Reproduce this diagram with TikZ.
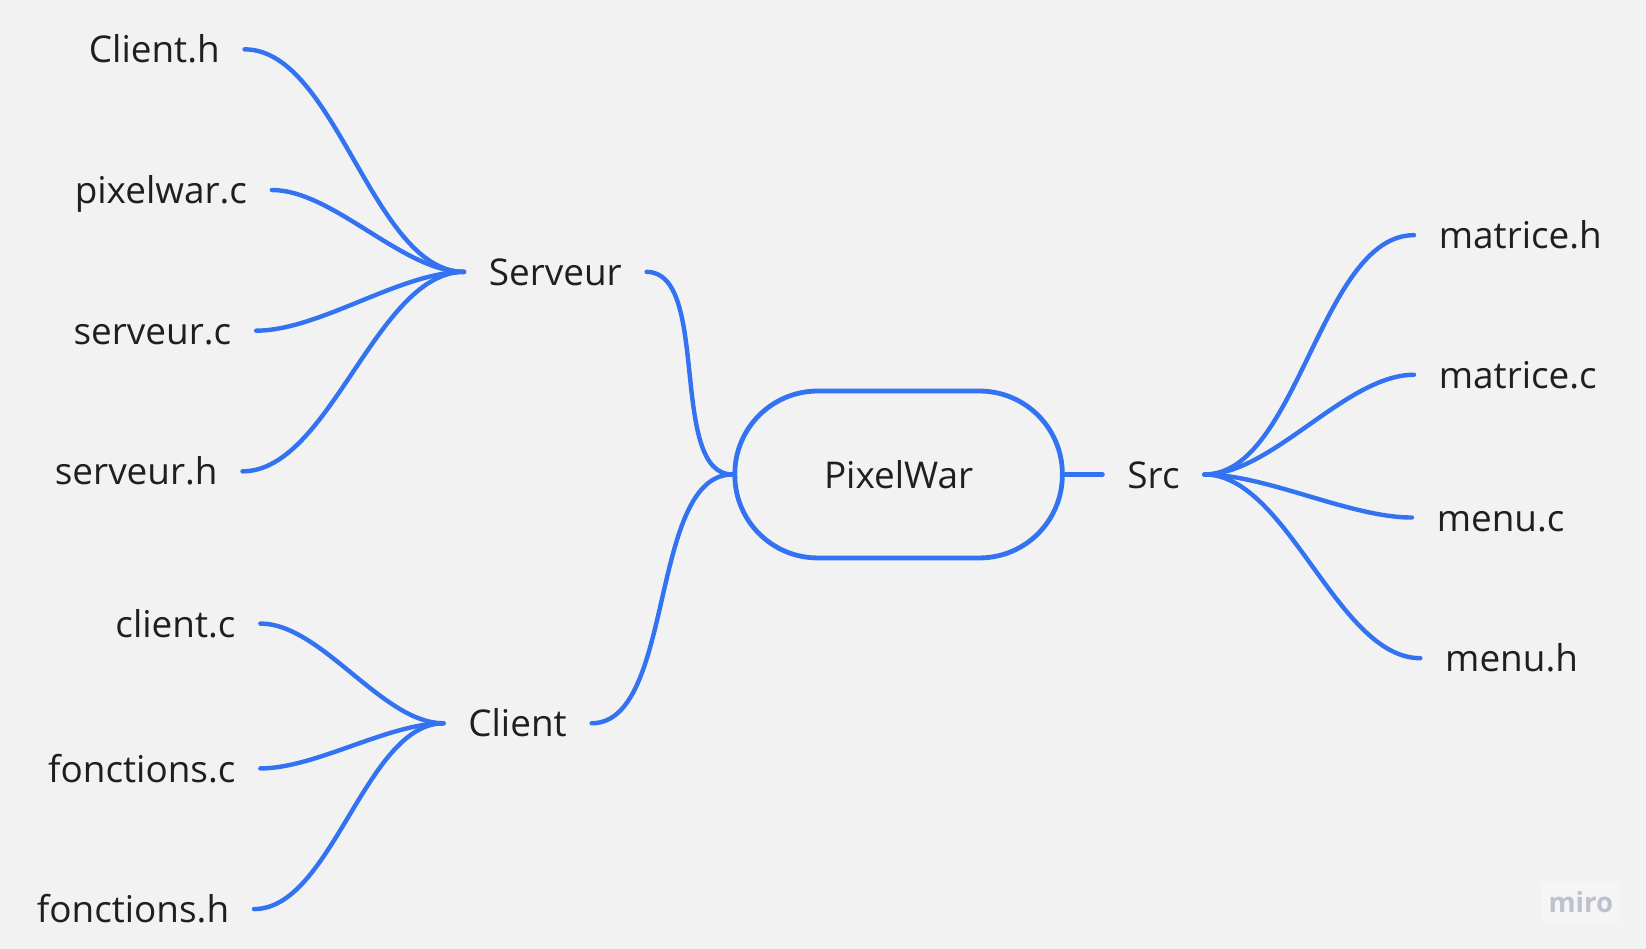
\documentclass[tikz,border=0pt]{standalone}
\usepackage{fontspec}
\setmainfont{Open Sans}
\usetikzlibrary{positioning}

\definecolor{mapblue}{RGB}{51,115,242}
\definecolor{paper}{RGB}{242,242,242}
\definecolor{logogray}{RGB}{190,193,205}

\tikzset{
	topic/.style={inner xsep=0.23cm, inner ysep=0.1cm, text height=0.26cm, text depth=0cm,
		text=black!88, font=\fontsize{10}{12}\selectfont},
	branch/.style={draw=mapblue, line width=1.2pt, line cap=round, looseness=0.75},
	rootbox/.style={draw=mapblue, line width=1.3pt, rounded corners=0.79cm,
		minimum width=3.12cm, minimum height=1.59cm, text=black!88, font=\fontsize{10}{12}\selectfont}
}

\begin{document}
\begin{tikzpicture}

% background
\fill[paper] (0,0) rectangle (15.68,-9.04);
\useasboundingbox (0,0) rectangle (15.68,-9.04);


\node[rootbox] (pixelwar) at (8.56,-4.52) {PixelWar};

\node[topic] (serveur) at (5.29,-2.59) {Serveur};
\node[topic] (client)  at (4.93,-6.89) {Client};
\node[topic, right=0.36cm of pixelwar] (src) {Src};


\draw[branch] (serveur.east) to[out=0, in=180] (pixelwar.west);
\draw[branch] (client.east)  to[out=0, in=180] (pixelwar.west);
\draw[branch] (pixelwar.east) -- (src.west);


% leaves of Serveur
\foreach \nm/\txt/\x/\y in {clienth/Client.h/2.33/-0.47, pixelwarc/pixelwar.c/2.59/-1.81,
	serveurc/serveur.c/2.44/-3.15, serveurh/serveur.h/2.31/-4.49}
{
	\node[topic, anchor=east] (\nm) at (\x,\y) {\txt};
	\draw[branch] (\nm.east) to[out=0, in=180] (serveur.west);
}


% leaves of Client
\foreach \nm/\txt/\x/\y in {clientc/client.c/2.48/-5.94, fonctionsc/fonctions.c/2.48/-7.32,
	fonctionsh/fonctions.h/2.42/-8.66}
{
	\node[topic, anchor=east] (\nm) at (\x,\y) {\txt};
	\draw[branch] (\nm.east) to[out=0, in=180] (client.west);
}


% leaves of Src
\foreach \nm/\txt/\x/\y in {matriceh/matrice.h/13.47/-2.24, matricec/matrice.c/13.47/-3.57,
	menuc/menu.c/13.45/-4.93, menuh/menu.h/13.53/-6.27}
{
	\node[topic, anchor=west] (\nm) at (\x,\y) {\txt};
	\draw[branch] (src.east) to[out=0, in=180] (\nm.west);
}


\node[fill=white!25!paper, minimum width=0.74cm, minimum height=0.39cm, inner sep=0pt,
	text=logogray, font=\fontsize{7.5}{8}\selectfont\bfseries] (logo) at (15.06,-8.595) {miro};

\end{tikzpicture}
\end{document}
